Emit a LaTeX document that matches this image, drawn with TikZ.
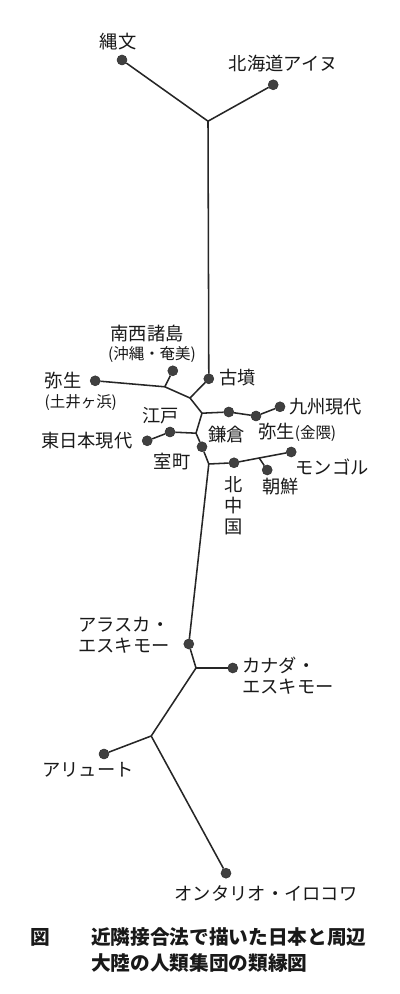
\documentclass[tikz,border=0pt]{standalone}
\usepackage{fontspec}
\newfontfamily\jpfont{Noto Sans CJK JP}

\begin{document}
\begin{tikzpicture}[
    leaf/.style={draw=black!80, circle, fill=black!75, inner sep=0pt, minimum size=0.25cm},
    branch/.style={line width=1.1pt, black!85},
    lbl/.style={font=\jpfont\fontsize{13}{15}\selectfont, inner sep=0pt, text=black!90},
    sublbl/.style={font=\jpfont\fontsize{11}{13}\selectfont, inner sep=0pt, text=black!90},
    capt/.style={font=\jpfont\bfseries\fontsize{14}{18.5}\selectfont, inner sep=0pt, text=black!90}
]
\useasboundingbox (0, 0) rectangle (10, 24.85);

% ---- Leaves (populations) ----
\node[leaf] (jomon)   at (3.05, 23.35) {};
\node[leaf] (ainu)    at (6.83, 22.73) {};
\node[leaf] (kofun)   at (5.22, 15.38) {};
\node[leaf] (nansei)  at (4.32, 15.58) {};
\node[leaf] (doigahama) at (2.38, 15.33) {};
\node[leaf] (kamakura)  at (5.72, 14.55) {};
\node[leaf] (kanenokuma) at (6.40, 14.45) {};
\node[leaf] (kyushu)  at (7.00, 14.68) {};
\node[leaf] (edo)     at (4.25, 14.05) {};
\node[leaf] (higashi) at (3.68, 13.83) {};
\node[leaf] (muromachi) at (5.05, 13.68) {};
\node[leaf] (kitachugoku) at (5.85, 13.28) {};
\node[leaf] (mongol)  at (7.28, 13.55) {};
\node[leaf] (chosen)  at (6.68, 13.10) {};
\node[leaf] (alaska)  at (4.72, 8.75) {};
\node[leaf] (canada)  at (5.82, 8.15) {};
\node[leaf] (aleut)   at (2.60, 6.00) {};
\node[leaf] (ontario) at (5.65, 3.02) {};

% ---- Inner junctions ----
\coordinate (j1) at (5.20, 21.82);
\coordinate (j2) at (4.12, 15.18);
\coordinate (j3) at (4.75, 14.90);
\coordinate (j4) at (5.05, 14.52);
\coordinate (j5) at (4.90, 14.02);
\coordinate (j6) at (5.22, 13.25);
\coordinate (j7) at (6.48, 13.40);
\coordinate (j8) at (4.90, 8.15);
\coordinate (j9) at (3.78, 6.45);

% ---- Tree ----
\draw[branch] (jomon) -- (j1);
\draw[branch] (ainu) -- (j1);
\draw[branch] (j1) -- (kofun);
\draw[branch] (kofun) -- (j3);
\draw[branch] (doigahama) -- (j2) -- (j3) -- (j4);
\draw[branch] (nansei) -- (j2);
\draw[branch] (j4) -- (kamakura) -- (kanenokuma) -- (kyushu);
\draw[branch] (j4) -- (j5);
\draw[branch] (higashi) -- (edo) -- (j5);
\draw[branch] (j5) -- (muromachi) -- (j6);
\draw[branch] (j6) -- (kitachugoku) -- (j7) -- (mongol);
\draw[branch] (j7) -- (chosen);
\draw[branch] (j6) -- (alaska) -- (j8);
\draw[branch] (j8) -- (canada);
\draw[branch] (j8) -- (j9);
\draw[branch] (j9) -- (aleut);
\draw[branch] (j9) -- (ontario);

% ---- Labels ----
\node[lbl] (l_jomon) at (2.95, 23.80) {縄文};
\node[lbl] (l_ainu) at (7.08, 23.25) {北海道アイヌ};
\node[lbl] (l_nansei) at (3.68, 16.50) {南西諸島};
\node[sublbl] (l_nansei2) at (3.80, 15.98) {(沖縄・奄美)};
\node[lbl, anchor=west] (l_kofun) at (5.48, 15.40) {古墳};
\node[lbl, anchor=west] (l_kyushu) at (7.22, 14.68) {九州現代};
\node[lbl, anchor=west] (l_kanenokuma) at (6.45, 14.05)
    {弥生{\fontsize{11}{13}\selectfont(金隈)}};
\node[lbl, anchor=west] (l_kamakura) at (5.20, 13.98) {鎌倉};
\node[lbl] (l_edo) at (4.02, 14.45) {江戸};
\node[lbl, anchor=east] (l_higashi) at (3.32, 13.83) {東日本現代};
\node[lbl] (l_muromachi) at (4.30, 13.32) {室町};
\node[lbl] (l_doigahama) at (1.58, 15.33) {弥生};
\node[sublbl] (l_doigahama2) at (2.02, 14.78) {(土井ヶ浜)};
\node[lbl, anchor=west] (l_mongol) at (7.38, 13.18) {モンゴル};
\node[lbl] (l_chosen) at (7.02, 12.68) {朝鮮};
\node[lbl, align=center] (l_kitachugoku) at (5.83, 12.20) {北\\中\\国};
\node[lbl, anchor=west, align=left] (l_alaska) at (1.95, 8.98) {アラスカ・\\エスキモー};
\node[lbl, anchor=west, align=left] (l_canada) at (6.05, 7.95) {カナダ・\\エスキモー};
\node[lbl] (l_aleut) at (2.20, 5.60) {アリュート};
\node[lbl] (l_ontario) at (6.65, 2.52) {オンタリオ・イロコワ};

% ---- Caption ----
\node[capt] (fig) at (1.00, 1.42) {図};
\node[capt, anchor=west, align=left] (caption) at (2.27, 1.10)
    {近隣接合法で描いた日本と周辺\\大陸の人類集団の類縁図};

\end{tikzpicture}
\end{document}
